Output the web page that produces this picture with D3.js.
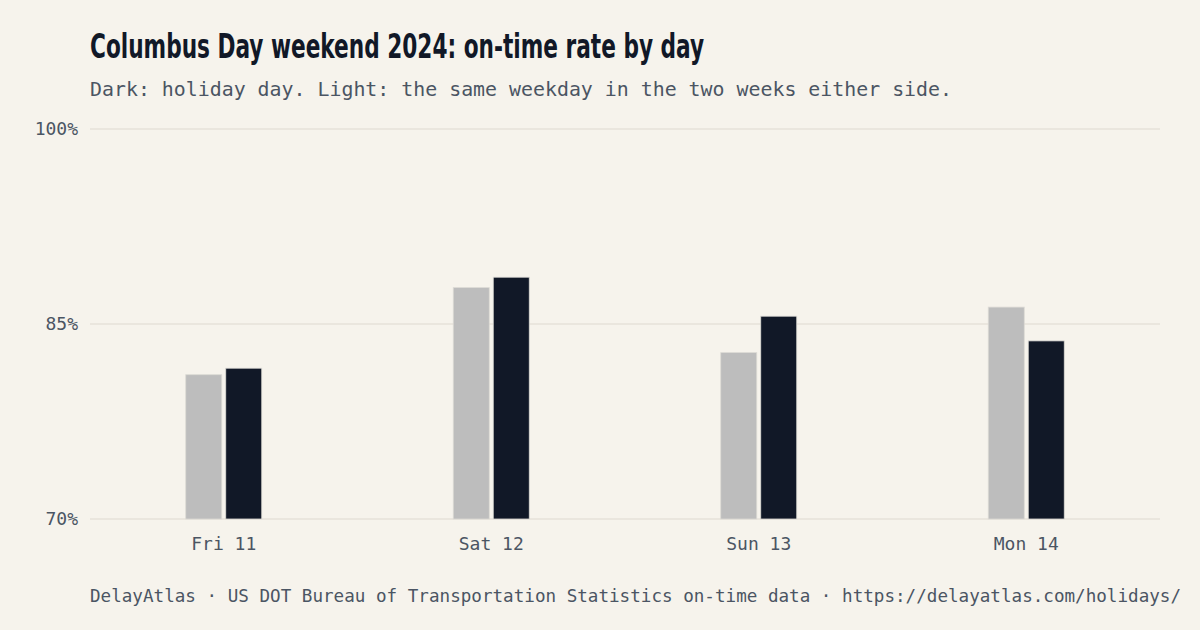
<!DOCTYPE html>
<html><head><meta charset="utf-8">
<script src="https://cdn.jsdelivr.net/npm/d3@7"></script>
<style>
html,body{margin:0;padding:0;background:#f6f3ec;}
svg{display:block;}
</style></head>
<body>
<svg id="chart" width="1200" height="630"></svg>
<script>
const days = ["Fri 11", "Sat 12", "Sun 13", "Mon 14"];
const series = ["light", "dark"];
const baselineRate = [81.1, 87.8, 82.8, 86.3];   // same weekday, two weeks either side
const holidayRate = [81.6, 88.6, 85.6, 83.7];    // holiday day
const yTicks = [70, 85, 100];
const yTickLabels = ["70%", "85%", "100%"];

const title = "Columbus Day weekend 2024: on-time rate by day";
const subtitle = "Dark: holiday day. Light: the same weekday in the two weeks either side.";
const footer = "DelayAtlas · US DOT Bureau of Transportation Statistics on-time data · https://delayatlas.com/holidays/";

const W = 1200, H = 630;
const M = {left: 90, right: 40, top: 129, bottom: 111};
const bg = "#f6f3ec";
const mono = "'DejaVu Sans Mono', 'Liberation Mono', monospace";
const textGrey = "#4b5563";

const svg = d3.select("#chart");
svg.append("rect").attr("width", W).attr("height", H).attr("fill", bg);

const y = d3.scaleLinear().domain([70, 100]).range([H - M.bottom, M.top]);
const x0 = d3.scaleBand().domain(days).range([M.left, W - M.right]).padding(0);
const groupW = 76;
const x1 = d3.scaleBand().domain(series).range([0, groupW]).paddingInner(0.1).paddingOuter(0);

// title
svg.append("text").attr("x", 90).attr("y", 58)
  .attr("font-family", "'Liberation Sans Narrow', 'DejaVu Sans Condensed', sans-serif")
  .attr("font-weight", 700).attr("font-size", 33).attr("fill", "#111827")
  .attr("textLength", 614).attr("lengthAdjust", "spacingAndGlyphs")
  .text(title);

svg.append("text").attr("x", 90).attr("y", 96)
  .attr("font-family", mono).attr("font-size", 20).attr("fill", textGrey)
  .attr("textLength", 862).attr("lengthAdjust", "spacingAndGlyphs")
  .text(subtitle);

// grid
const grid = svg.append("g");
grid.selectAll("line").data(yTicks).join("line")
  .attr("x1", M.left).attr("x2", W - M.right)
  .attr("y1", d => y(d)).attr("y2", d => y(d))
  .attr("stroke", "#e6e2da").attr("stroke-width", 1.5);

// y axis labels
svg.append("g").selectAll("text").data(yTicks).join("text")
  .attr("x", 78).attr("y", d => y(d)).attr("dy", "0.35em")
  .attr("text-anchor", "end")
  .attr("font-family", mono).attr("font-size", 18).attr("fill", textGrey)
  .text((d, i) => yTickLabels[i]);

// bars
const rows = days.map((d, i) => ({day: d, light: baselineRate[i], dark: holidayRate[i]}));
const colors = {light: "#bdbdbd", dark: "#111827"};
const groups = svg.append("g").selectAll("g").data(rows).join("g")
  .attr("transform", d => `translate(${x0(d.day) + x0.bandwidth() / 2 - groupW / 2},0)`);
groups.selectAll("rect").data(d => series.map(s => ({key: s, value: d[s]}))).join("rect")
  .attr("x", d => x1(d.key))
  .attr("width", x1.bandwidth())
  .attr("y", d => y(d.value))
  .attr("height", d => y(70) - y(d.value))
  .attr("fill", d => colors[d.key])
  .attr("stroke", "#dcdad5").attr("stroke-width", 0.8);

// x axis labels
const xAxis = d3.axisBottom(x0).tickSize(0).tickPadding(0);
const xg = svg.append("g").attr("transform", `translate(0,${y(70)})`).call(xAxis);
xg.select(".domain").remove();
xg.selectAll("text")
  .attr("y", 31).attr("dy", 0)
  .attr("font-family", mono).attr("font-size", 18).attr("fill", textGrey);

// footer
svg.append("text").attr("x", 90).attr("y", 602)
  .attr("font-family", mono).attr("font-size", 17.6).attr("fill", textGrey)
  .text(footer);
</script>
</body></html>
